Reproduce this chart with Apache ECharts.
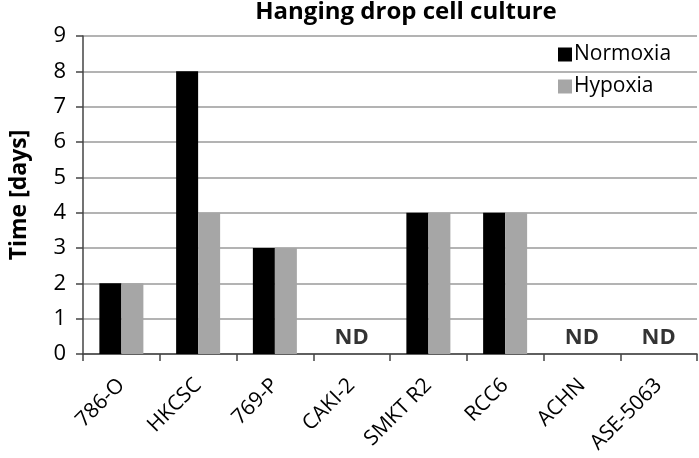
<!DOCTYPE html>
<html><head><meta charset="utf-8">
<script src="https://cdn.jsdelivr.net/npm/echarts@6/dist/echarts.min.js"></script>
<style>html,body{margin:0;padding:0;background:#fff}#c{width:699px;height:458px}</style>
</head><body><div id="c"></div>
<script>
const categories = ['786-O','HKCSC','769-P','CAKI-2','SMKT R2','RCC6','ACHN','ASE-5063'];
const normoxia = [2, 8, 3, null, 4, 4, null, null];
const hypoxia = [2, 4, 3, null, 4, 4, null, null];
const yTicks = [0,1,2,3,4,5,6,7,8,9];
const ndData = categories.map((c,i) => (normoxia[i]==null && hypoxia[i]==null) ? 0 : null);
const F = '"Open Sans", Lato, sans-serif';
const chart = echarts.init(document.getElementById('c'));
chart.setOption({
  animation:false,
  title:{text:'Hanging drop cell culture', left:401, textAlign:'center', top:-5,
    textStyle:{fontFamily:F, fontWeight:'bold', fontSize:24, color:'#000'}},
  legend:{data:['Normoxia','Hypoxia'], orient:'vertical', left:553, top:39, itemGap:11,
    itemWidth:14, itemHeight:14, icon:'rect',
    textStyle:{fontFamily:F, fontSize:21, color:'#000', padding:[0,0,0,-3]}},
  grid:{left:76, right:2, top:36, bottom:104, containLabel:false},
  xAxis:{type:'category', data:categories,
    axisLine:{lineStyle:{color:'#444', width:1.5}},
    axisTick:{show:true, alignWithLabel:false, length:7, lineStyle:{color:'#444', width:1.5}},
    axisLabel:{rotate:45, margin:28, fontFamily:F, fontSize:21, color:'#000', interval:0}},
  yAxis:{type:'value', min:yTicks[0], max:yTicks[yTicks.length-1], interval:1,
    name:'Time [days]', nameLocation:'middle', nameGap:52, nameRotate:90,
    nameTextStyle:{fontFamily:F, fontWeight:'bold', fontSize:23, color:'#000'},
    axisLine:{show:true, lineStyle:{color:'#444', width:1.5}},
    axisTick:{show:true, inside:false, length:7, lineStyle:{color:'#444', width:1.5}},
    axisLabel:{fontFamily:F, fontSize:22, color:'#000', margin:17},
    splitLine:{lineStyle:{color:'#9a9a9a', width:1.5}}},
  series:[
    {name:'Normoxia', type:'bar', data:normoxia, barWidth:22, barGap:'0%',
     itemStyle:{color:'#000'}},
    {name:'Hypoxia', type:'bar', data:hypoxia, barWidth:22,
     itemStyle:{color:'#a6a6a6'}},
    {name:'ND', type:'scatter', data:ndData, symbolSize:0, silent:true,
     label:{show:true, position:'top', distance:5, formatter:'ND',
       fontFamily:F, fontWeight:'bold', fontSize:22, color:'#000'}}
  ]
});
</script></body></html>
